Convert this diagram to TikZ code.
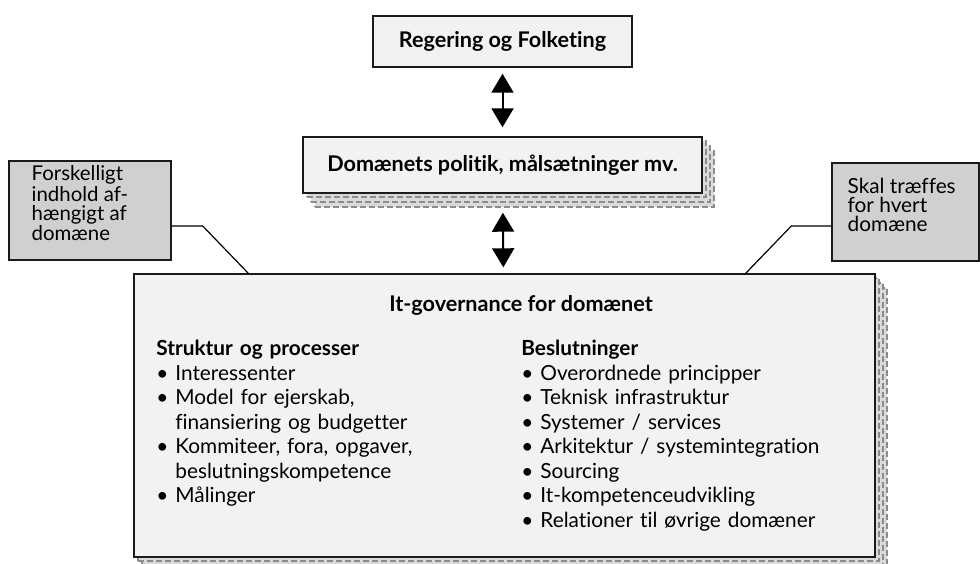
\documentclass[tikz,border=0pt]{standalone}
\usepackage{fontspec}
\setmainfont{Lato}[Ligatures=CommonOff]
\usepackage{xcolor}
\definecolor{linedark}{HTML}{1A1A1A}
\definecolor{boxfill}{HTML}{F2F2F2}
\definecolor{notefill}{HTML}{D0D0D0}
\definecolor{stackgray}{HTML}{8C8C8C}
\definecolor{stackfill}{HTML}{DADADA}
\usepackage{tikz}
\usetikzlibrary{arrows.meta, shadows}
\newcommand{\pkt}{\textbullet\ }
\newcommand{\pktind}{\phantom{\textbullet\ }}
\tikzset{
  gbox/.style ={rectangle, draw=linedark, line width=0.7pt, fill=boxfill, align=center,
                inner sep=0pt, font=\bfseries\fontsize{10.8}{13}\selectfont},
  gstack/.style={copy shadow={shadow xshift=6pt, shadow yshift=-7pt, draw=stackgray, line width=0.8pt,
                              dash pattern=on 3pt off 1.5pt, fill=stackfill},
                 copy shadow={shadow xshift=4pt, shadow yshift=-4.5pt, draw=stackgray, line width=0.8pt,
                              dash pattern=on 3pt off 1.5pt, fill=stackfill},
                 copy shadow={shadow xshift=2pt, shadow yshift=-2pt, draw=stackgray, line width=0.8pt,
                              dash pattern=on 3pt off 1.5pt, fill=stackfill}},
  gnote/.style={rectangle, draw=linedark, line width=0.7pt, fill=notefill, inner sep=0pt},
  gnotetext/.style={anchor=north west, inner sep=0pt, align=left},
  gcol/.style ={anchor=north west, inner sep=0pt, align=left, text width=180pt,
                font=\fontsize{10.4}{12.25}\selectfont},
  garr/.style ={{Triangle[length=9.5pt,width=11pt]}-{Triangle[length=9.5pt,width=11pt]},
                line width=1pt, color=black},
  glink/.style={line width=0.6pt, color=black},
}
\begin{document}
\begin{tikzpicture}[x=0.5pt, y=-0.5pt]
  \useasboundingbox (0,0) rectangle (980,563);
  % boxes
  \node[gbox, minimum width=129.5pt, minimum height=25.5pt] (reg) at (502.5,41.5) {Regering og Folketing};
  \node[gbox, gstack, minimum width=199.5pt, minimum height=28pt] (pol) at (502.5,165) {Domænets politik, målsætninger mv.};
  \node[gbox, gstack, minimum width=370.5pt, minimum height=141.5pt] (gov) at (504.5,415.5) {};
  % callouts
  \node[gnote, minimum width=81pt, minimum height=49.5pt] (lnote) at (90,210.5) {};
  \node[gnotetext, font=\fontsize{10.2}{9.3}\selectfont] (lnotetext) at ([xshift=11.5pt,yshift=-2.5pt]lnote.north west)
    {Forskelligt\\indhold af-\\hængigt af\\domæne};
  \node[gnote, minimum width=73.5pt, minimum height=49pt] (rnote) at (905.5,212) {};
  \node[gnotetext, font=\fontsize{10.4}{9.5}\selectfont] (rnotetext) at ([xshift=8pt,yshift=-7.5pt]rnote.north west)
    {Skal træffes\\for hvert\\domæne};
  % inside the governance box
  \node[inner sep=0pt, font=\bfseries\fontsize{10.8}{13}\selectfont] (govtitle) at (521,305) {It-governance for domænet};
  \node[gcol] (struk) at (156,340) {\textbf{Struktur og processer}\\
    \pkt Interessenter\\
    \pkt Model for ejerskab,\\
    \pktind finansiering og budgetter\\
    \pkt Kommiteer, fora, opgaver,\\
    \pktind beslutningskompetence\\
    \pkt Målinger};
  \node[gcol] (beslut) at (521,340) {\textbf{Beslutninger}\\
    \pkt Overordnede principper\\
    \pkt Teknisk infrastruktur\\
    \pkt Systemer / services\\
    \pkt Arkitektur / systemintegration\\
    \pkt Sourcing\\
    \pkt It-kompetenceudvikling\\
    \pkt Relationer til øvrige domæner};
  % connectors
  \draw[garr, shorten <=3pt, shorten >=4.5pt] (reg) -- (pol);
  \draw[garr, shorten <=9.5pt, shorten >=3pt] (pol) -- (gov);
  \draw[glink] ([yshift=-7.75pt]lnote.east) -- ++(15.5pt,0) -- ([xshift=57.5pt]gov.north west);
  \draw[glink] ([yshift=-7pt]rnote.west) -- ++(-20pt,0) -- ([xshift=-65pt]gov.north east);
\end{tikzpicture}
\end{document}
